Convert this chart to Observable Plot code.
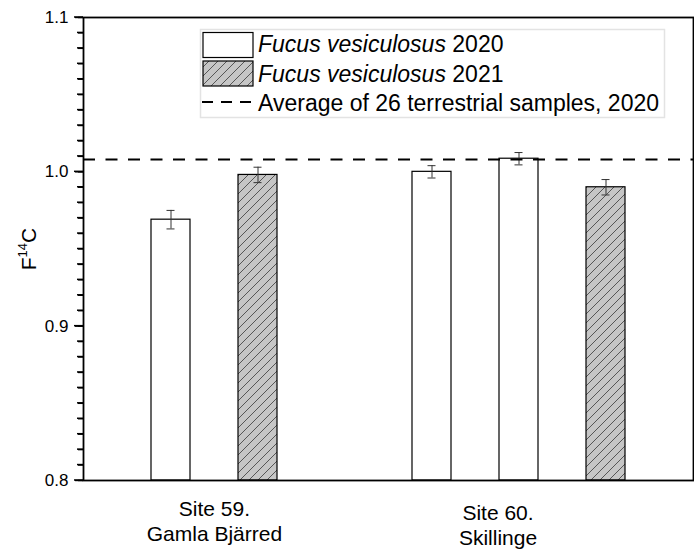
<!DOCTYPE html>
<html>
<head>
<meta charset="utf-8">
<script src="https://cdn.jsdelivr.net/npm/d3@7"></script>
<script src="https://cdn.jsdelivr.net/npm/@observablehq/plot@0.6"></script>
<style>
  html, body { margin: 0; padding: 0; background: white; overflow: hidden; }
  #chart { position: relative; width: 694px; height: 551px; }
  #chart > svg { position: absolute; left: 0; top: 0; }
  #overlay { pointer-events: none; }
</style>
</head>
<body>
<div id="chart"></div>
<script>
// ---- data ----
const categories = ["S59 2020", "S59 2021", "gap", "S60 2020 a", "S60 2020 b", "S60 2021"];
const barKeys = ["S59 2020", "S59 2021", "S60 2020 a", "S60 2020 b", "S60 2021"];
const barYears = [2020, 2021, 2020, 2020, 2021];
const f14c = [0.969, 0.998, 1.000, 1.0085, 0.990];
const f14cErr = [0.006, 0.005, 0.004, 0.004, 0.005];
const terrestrialAvg = 1.008;
const yTicks = [0.8, 0.9, 1.0, 1.1];
const siteLabels = ["Site 59.\nGamla Bjärred", "Site 60.\nSkillinge"];
const legendSpecies = ["Fucus vesiculosus", "Fucus vesiculosus"];
const legendYears = ["2020", "2021"];
const legendAvgLabel = "Average of 26 terrestrial samples, 2020";

const rows = barKeys.map((k, i) => ({key: k, year: barYears[i], v: f14c[i], e: f14cErr[i]}));
const yMin = d3.min(yTicks), yMax = d3.max(yTicks);
const minorTicks = d3.range(0, 31).map(i => +(yMin + i * 0.01).toFixed(2));

const W = 694, H = 551;
const ML = 83, MT = 17, MB = 71;
const step = (W - ML - 1) / 7;

const plot = Plot.plot({
  width: W,
  height: H,
  marginLeft: ML,
  marginRight: 1,
  marginTop: MT,
  marginBottom: MB,
  style: {fontFamily: "'Liberation Sans', Arial, sans-serif", fontSize: "17px", color: "black", background: "white"},
  x: {type: "band", domain: categories, paddingInner: 0.553, paddingOuter: 0.7765, axis: null},
  y: {domain: [yMin, yMax], label: null, axis: null},
  marks: [
    Plot.barY(rows.filter(d => d.year === 2020), {x: "key", y1: yMin, y2: "v", fill: "white", stroke: "black", strokeWidth: 1.2}),
    Plot.barY(rows.filter(d => d.year === 2021), {x: "key", y1: yMin, y2: "v", fill: "url(#hatch)", stroke: "black", strokeWidth: 1.2}),
    Plot.ruleX(rows, {x: "key", y1: d => d.v - d.e, y2: d => d.v + d.e, stroke: "#333", strokeWidth: 1}),
    Plot.tickY(rows, {x: "key", y: d => d.v + d.e, insetLeft: 15.5, insetRight: 15.5, stroke: "#333", strokeWidth: 1}),
    Plot.tickY(rows, {x: "key", y: d => d.v - d.e, insetLeft: 15.5, insetRight: 15.5, stroke: "#333", strokeWidth: 1}),
    Plot.ruleY([terrestrialAvg], {stroke: "black", strokeWidth: 2, strokeDasharray: "12,10.5"}),
    Plot.frame({stroke: "black", strokeWidth: 1.8}),
    Plot.text([siteLabels[0]], {x: () => categories[1], dx: -step / 2, frameAnchor: "bottom", text: d => d, lineAnchor: "top", dy: 17.5, fontSize: 21, lineHeight: 1.19}),
    Plot.text([siteLabels[1]], {x: () => categories[4], dx: -21, frameAnchor: "bottom", text: d => d, lineAnchor: "top", dy: 21.5, fontSize: 21, lineHeight: 1.19}),
    Plot.axisY({ticks: minorTicks, tickSize: 5, tickFormat: () => "", strokeWidth: 1.4}),
    Plot.axisY({ticks: yTicks, tickSize: 8, tickPadding: 7, fontSize: 17, tickFormat: d3.format(".1f"), strokeWidth: 1.4})
  ]
});

const chart = document.getElementById("chart");
chart.appendChild(plot);

const svg = d3.select(plot);
const ys = plot.scale("y");
const yFallback = d3.scaleLinear().domain([yMin, yMax]).range([H - MB, MT]);
const yPos = v => { const p = ys && ys.apply ? ys.apply(v) : NaN; return Number.isFinite(p) ? p : yFallback(v); };

// hatch pattern
const defs = svg.insert("defs", ":first-child");
const pat = defs.append("pattern").attr("id", "hatch").attr("patternUnits", "userSpaceOnUse")
  .attr("width", 9).attr("height", 9);
pat.append("rect").attr("width", 9).attr("height", 9).attr("fill", "#c6c6c6");
pat.append("path").attr("d", "M-1,1 l2,-2 M0,9 l9,-9 M8,10 l2,-2")
  .attr("stroke", "#3a3a3a").attr("stroke-width", 0.8);

// y-axis label F14C
const yl = svg.append("text")
  .attr("transform", "translate(36,249) rotate(-90)")
  .attr("text-anchor", "middle")
  .attr("font-size", 21)
  .attr("fill", "black");
yl.append("tspan").text("F");
yl.append("tspan").attr("font-size", 13).attr("dy", "-0.7em").text("14");
yl.append("tspan").attr("dy", "0.45em").text("C");

// legend
const lg = svg.append("g").attr("font-size", 23).attr("fill", "black").attr("text-anchor", "start");
lg.append("rect").attr("x", 200.5).attr("y", 29.5).attr("width", 464).attr("height", 88)
  .attr("fill", "white").attr("stroke", "#e3e3e3").attr("stroke-width", 1.5);
lg.append("rect").attr("x", 203).attr("y", 32.5).attr("width", 50).attr("height", 25)
  .attr("fill", "white").attr("stroke", "black").attr("stroke-width", 1.2);
lg.append("rect").attr("x", 203).attr("y", 61).attr("width", 50).attr("height", 25)
  .attr("fill", "url(#hatch)").attr("stroke", "black").attr("stroke-width", 1.2);
lg.append("line").attr("x1", 202).attr("x2", 253).attr("y1", 102).attr("y2", 102)
  .attr("stroke", "black").attr("stroke-width", 2).attr("stroke-dasharray", "11,8");
[0, 1].forEach(i => {
  const t = lg.append("text").attr("x", 258).attr("y", 52 + i * 29.5);
  t.append("tspan").attr("font-style", "italic").text(legendSpecies[i]);
  t.append("tspan").text(" " + legendYears[i]);
});
lg.append("text").attr("x", 258).attr("y", 111).text(legendAvgLabel);

// overlay layer (separate svg above the plot) for the y-axis tick strokes,
// positioned through Plot's own y scale
const ov = d3.select(chart).append("svg").attr("id", "overlay")
  .attr("width", W).attr("height", H).attr("viewBox", `0 0 ${W} ${H}`);
const tg = ov.append("g").attr("fill", "#000");
minorTicks.forEach(t => {
  const major = yTicks.some(m => Math.abs(m - t) < 1e-9);
  const len = major ? 9 : 6;
  const py = yPos(t);
  tg.append("rect").attr("x", ML - len).attr("y", py - 0.75).attr("width", len).attr("height", 1.5);
});
</script>
</body>
</html>
